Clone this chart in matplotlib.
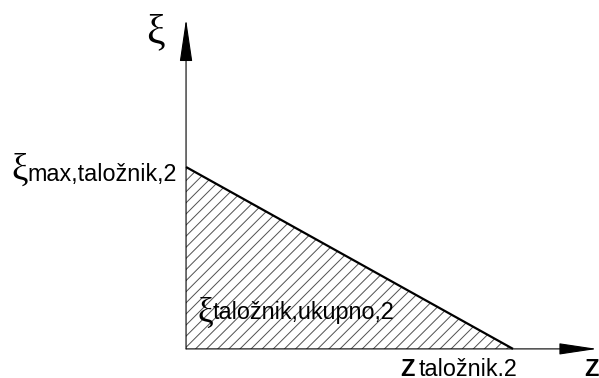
import numpy as np
import matplotlib
matplotlib.use("Agg")
import matplotlib.pyplot as plt

# diagram values (arbitrary units)
z_taloznik = 10.0      # end of sediment zone on Z axis
xi_max = 5.5           # xi max at Z = 0
z_axis_end = 12.57
xi_axis_end = 9.97

label_xi_axis = "ξ"
label_z_axis = "Z"
label_xi_max = "max,taložnik,2"
label_area = "taložnik,ukupno,2"
label_z_end = "taložnik.2"

plt.rcParams['font.family'] = ['Liberation Sans', 'DejaVu Sans']
plt.rcParams['hatch.linewidth'] = 0.7

fig = plt.figure(figsize=(5.99, 3.78), dpi=100)
ax = fig.add_axes([0, 0, 1, 1])
ax.set_xlim(-5.69, 12.63)
ax.set_ylim(-0.88, 10.55)
ax.axis('off')

# hatched triangle
ax.fill([0, 0, z_taloznik], [0, xi_max, 0], facecolor='white',
        edgecolor='#505050', hatch='///', lw=0)
ax.plot([0, z_taloznik], [xi_max, 0], color='black', lw=1.6, solid_capstyle='butt')

# axes with arrows
ax.annotate('', xy=(0, xi_axis_end), xytext=(0, 0),
            arrowprops=dict(arrowstyle='-|>,head_length=2.7,head_width=0.4',
                            lw=0.8, color='black', shrinkA=0, shrinkB=0,
                            mutation_scale=10))
ax.annotate('', xy=(z_axis_end, 0), xytext=(0, 0),
            arrowprops=dict(arrowstyle='-|>,head_length=2.4,head_width=0.36',
                            lw=0.8, color='black', shrinkA=0, shrinkB=0,
                            mutation_scale=10))

px = 0.72  # points per pixel at dpi 100
fs = 16.8
xi_font = ['Liberation Serif', 'DejaVu Serif']

def put(s, xy, dx, dy, ha='left', **kw):
    ax.annotate(s, xy=xy, xytext=(dx * px, dy * px), textcoords='offset points',
                ha=ha, va='baseline', annotation_clip=False, **kw)

# xi axis label
put(label_xi_axis, (0, xi_axis_end), -21, -24, ha='right', fontsize=30, family=xi_font)

# xi max label
put(label_xi_max, (0, xi_max), -9, -14, ha='right', fontsize=fs)
put("ξ", (0, xi_max), -158, -13, ha='right', fontsize=26.5, family=xi_font)

# area label
put("ξ", (0, 0), 27, 27.5, ha='right', fontsize=25.5, family=xi_font)
put(label_area, (0, 0), 27, 30, fontsize=fs)

# Z end label
put("Z", (z_taloznik, 0), -98, -27.5, ha='right', fontsize=17, fontweight='bold')
put(label_z_end, (z_taloznik, 0), 4, -27.5, ha='right', fontsize=fs)

# Z axis label
put(label_z_axis, (z_axis_end, 0), -13, -27.5, fontsize=17, fontweight='bold')

fig.savefig('out.png', dpi=100)
